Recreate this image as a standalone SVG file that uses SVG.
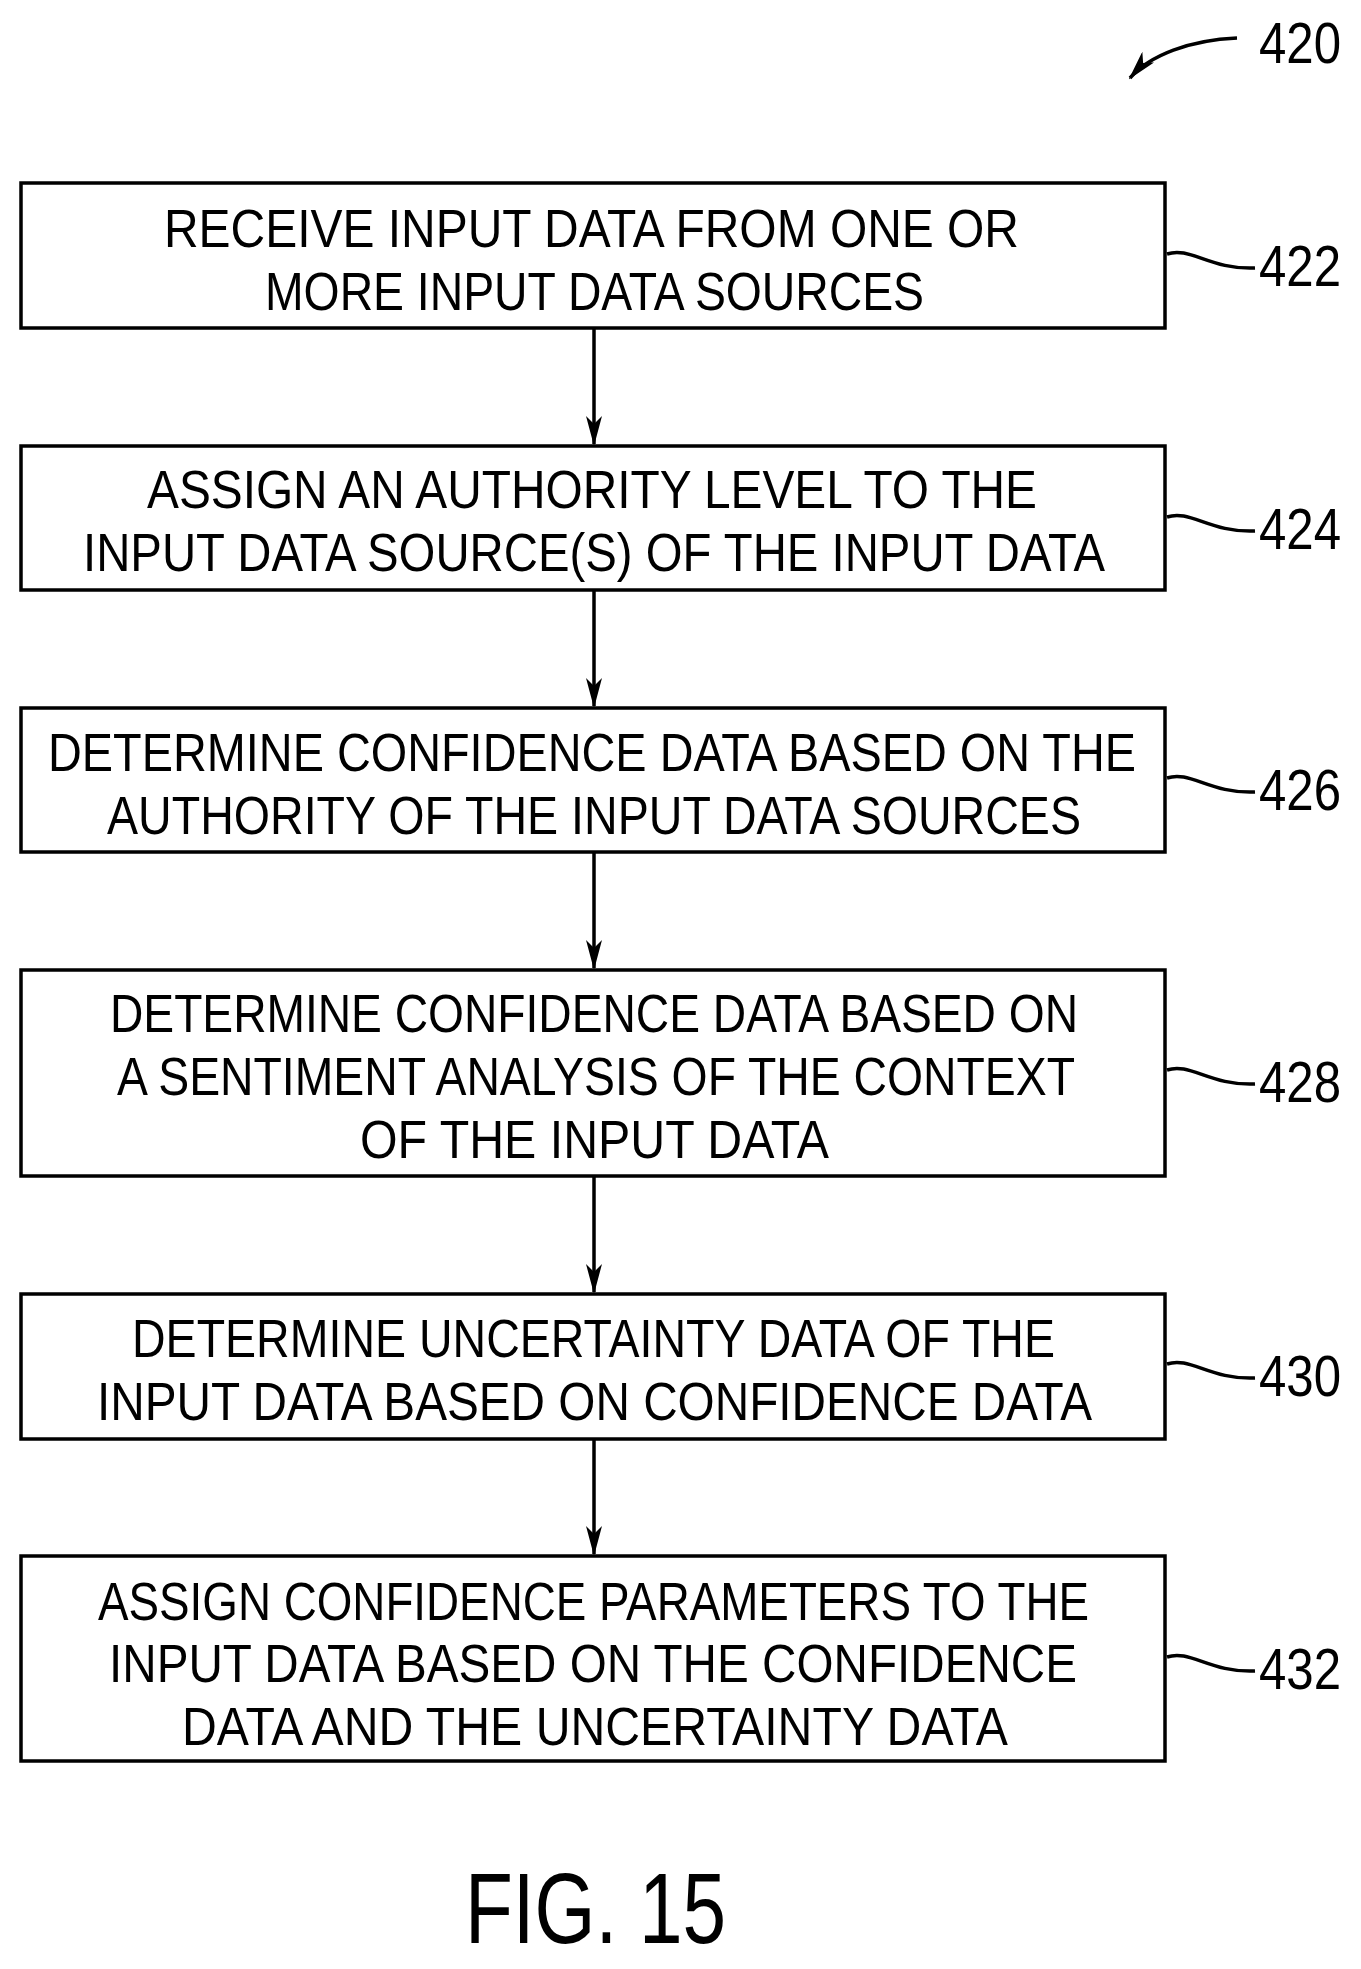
<svg xmlns="http://www.w3.org/2000/svg" width="1361" height="1969" viewBox="0 0 1361 1969">
<style>
.b{fill:#fff;stroke:#000;stroke-width:3.5}
.t{font-family:"Liberation Sans",Arial,sans-serif;font-size:54px;fill:#000}
.n{font-family:"Liberation Sans",Arial,sans-serif;font-size:58px;fill:#000}
.c{fill:none;stroke:#000;stroke-width:3.5}
</style>
<defs><marker id="a" markerWidth="30" markerHeight="16" refX="28" refY="8" orient="auto" markerUnits="userSpaceOnUse" viewBox="0 0 30 16"><path d="M0,0 L30,8 L0,16 L8,8 Z" fill="#000"/></marker></defs>
<g id="connectors">
<line class="c" x1="594" y1="329" x2="594" y2="444" marker-end="url(#a)"/>
<line class="c" x1="594" y1="591" x2="594" y2="706" marker-end="url(#a)"/>
<line class="c" x1="594" y1="853" x2="594" y2="968" marker-end="url(#a)"/>
<line class="c" x1="594" y1="1177" x2="594" y2="1292" marker-end="url(#a)"/>
<line class="c" x1="594" y1="1440" x2="594" y2="1554" marker-end="url(#a)"/>
<path class="c" d="M1237,38 C1190,40 1150,55 1130,78" marker-end="url(#a)"/>
<path class="c" d="M1167,254 C1190,246 1210,270 1255,268"/>
<path class="c" d="M1167,517 C1190,509 1210,533 1255,531"/>
<path class="c" d="M1167,778 C1190,770 1210,794 1255,792"/>
<path class="c" d="M1167,1070 C1190,1062 1210,1086 1255,1084"/>
<path class="c" d="M1167,1364 C1190,1356 1210,1380 1255,1378"/>
<path class="c" d="M1167,1657 C1190,1649 1210,1673 1255,1671"/>
</g>
<text class="n" x="1259" y="63" textLength="82" lengthAdjust="spacingAndGlyphs">420</text>
<g id="n422"><rect class="b" x="21" y="183" width="1144" height="145"/>
<text class="t" x="164" y="247" textLength="855" lengthAdjust="spacingAndGlyphs">RECEIVE  INPUT  DATA  FROM   ONE  OR</text>
<text class="t" x="265" y="310" textLength="659" lengthAdjust="spacingAndGlyphs">MORE  INPUT  DATA  SOURCES</text>
<text class="n" x="1259" y="286" textLength="82" lengthAdjust="spacingAndGlyphs">422</text></g>
<g id="n424"><rect class="b" x="21" y="446" width="1144" height="144"/>
<text class="t" x="147" y="508" textLength="890" lengthAdjust="spacingAndGlyphs">ASSIGN  AN  AUTHORITY  LEVEL  TO  THE</text>
<text class="t" x="83" y="571" textLength="1022" lengthAdjust="spacingAndGlyphs">INPUT  DATA  SOURCE(S) OF  THE  INPUT  DATA</text>
<text class="n" x="1259" y="549" textLength="82" lengthAdjust="spacingAndGlyphs">424</text></g>
<g id="n426"><rect class="b" x="21" y="708" width="1144" height="144"/>
<text class="t" x="48" y="771" textLength="1088" lengthAdjust="spacingAndGlyphs">DETERMINE  CONFIDENCE  DATA  BASED  ON  THE</text>
<text class="t" x="107" y="834" textLength="974" lengthAdjust="spacingAndGlyphs">AUTHORITY  OF  THE  INPUT  DATA  SOURCES</text>
<text class="n" x="1259" y="810" textLength="82" lengthAdjust="spacingAndGlyphs">426</text></g>
<g id="n428"><rect class="b" x="21" y="970" width="1144" height="206"/>
<text class="t" x="110" y="1032" textLength="968" lengthAdjust="spacingAndGlyphs">DETERMINE  CONFIDENCE  DATA  BASED  ON</text>
<text class="t" x="117" y="1095" textLength="958" lengthAdjust="spacingAndGlyphs">A  SENTIMENT  ANALYSIS  OF  THE  CONTEXT</text>
<text class="t" x="360" y="1158" textLength="469" lengthAdjust="spacingAndGlyphs">OF  THE  INPUT  DATA</text>
<text class="n" x="1259" y="1102" textLength="82" lengthAdjust="spacingAndGlyphs">428</text></g>
<g id="n430"><rect class="b" x="21" y="1294" width="1144" height="145"/>
<text class="t" x="132" y="1357" textLength="923" lengthAdjust="spacingAndGlyphs">DETERMINE  UNCERTAINTY  DATA  OF  THE</text>
<text class="t" x="97" y="1420" textLength="995" lengthAdjust="spacingAndGlyphs">INPUT  DATA  BASED  ON  CONFIDENCE  DATA</text>
<text class="n" x="1259" y="1396" textLength="82" lengthAdjust="spacingAndGlyphs">430</text></g>
<g id="n432"><rect class="b" x="21" y="1556" width="1144" height="205"/>
<text class="t" x="98" y="1620" textLength="991" lengthAdjust="spacingAndGlyphs">ASSIGN  CONFIDENCE  PARAMETERS  TO  THE</text>
<text class="t" x="109" y="1682" textLength="968" lengthAdjust="spacingAndGlyphs">INPUT  DATA  BASED  ON  THE  CONFIDENCE</text>
<text class="t" x="182" y="1745" textLength="826" lengthAdjust="spacingAndGlyphs">DATA  AND  THE  UNCERTAINTY  DATA</text>
<text class="n" x="1259" y="1689" textLength="82" lengthAdjust="spacingAndGlyphs">432</text></g>
<text class="t" x="465" y="1943" style="font-size:100px" textLength="261" lengthAdjust="spacingAndGlyphs">FIG. 15</text>
</svg>
